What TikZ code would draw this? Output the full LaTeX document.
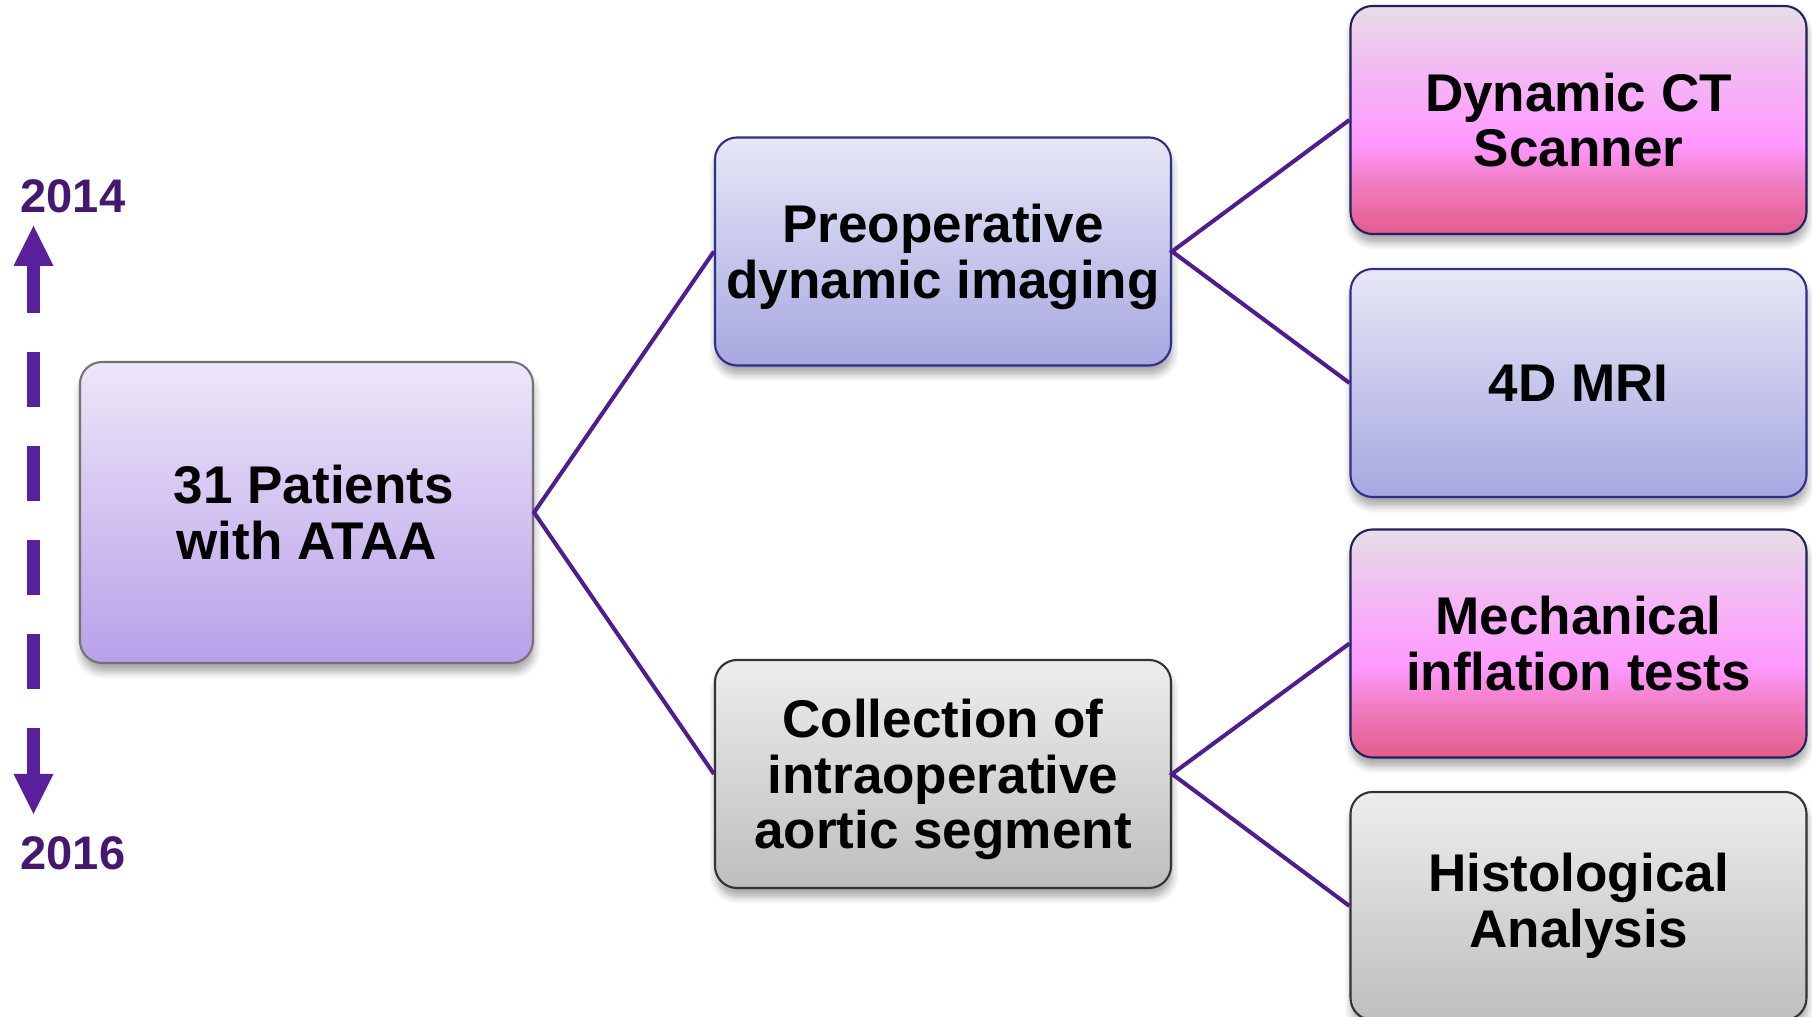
\documentclass[tikz,border=0pt]{standalone}
\usepackage{fontspec}
\setmainfont{Liberation Sans}
\usetikzlibrary{shadows.blur}

\definecolor{linkcol}{HTML}{4E1E8E}
\definecolor{timecol}{HTML}{5A1F9A}
\definecolor{yearcol}{HTML}{45186F}
\definecolor{navy}{HTML}{2D2F8A}
\definecolor{pinktop}{HTML}{E6DDE6}
\definecolor{pinkmid}{HTML}{FF99FF}
\definecolor{pinkdeep}{HTML}{F07CC0}
\definecolor{pinkbot}{HTML}{E35C8B}
\definecolor{lilactop}{HTML}{EDE6F8}
\definecolor{lilacbot}{HTML}{B8A0EA}
\definecolor{bluetop}{HTML}{E7E7F7}
\definecolor{bluebot}{HTML}{A7A7E1}
\definecolor{greytop}{HTML}{EDEDED}
\definecolor{greybot}{HTML}{BEBEBE}

\pgfdeclareverticalshading{pinkfill}{100bp}{color(0bp)=(pinkbot); color(25bp)=(pinkbot); color(36bp)=(pinkdeep); color(45bp)=(pinkmid); color(60bp)=(pinktop!45!pinkmid); color(75bp)=(pinktop); color(100bp)=(pinktop)}

\tikzset{
  box/.style={rounded corners=0.22cm, minimum width=4.56cm, minimum height=2.28cm,
    align=center, inner sep=0pt, line width=0.6pt,
    font=\fontsize{15.1pt}{15.8pt}\selectfont\bfseries,
    blur shadow={shadow xshift=0.3pt, shadow yshift=-2.5pt, shadow blur steps=6, shadow opacity=35}},
  lilac/.style={box, draw=black!55, top color=lilactop, bottom color=lilacbot},
  blue/.style={box, draw=navy, top color=bluetop, bottom color=bluebot},
  pink/.style={box, draw=navy!70!black, shading=pinkfill},
  grey/.style={box, draw=black!80, top color=greytop, bottom color=greybot},
  link/.style={draw=linkcol, line width=1.15pt},
  year/.style={text=yearcol, font=\fontsize{13.4pt}{14pt}\selectfont\bfseries}
}

\begin{document}
\begin{tikzpicture}
    \useasboundingbox (0,0) rectangle (18.12,10.17);

    % Boxes
    \node[lilac, minimum width=4.53cm, minimum height=3.01cm] (patients) at (3.065,5.045) {\hspace*{0.147cm}31 Patients\\with ATAA};
    \node[blue, text depth=0pt] (preop) at (9.43,7.655) {Preoperative\\dynamic imaging};
    \node[grey, text depth=0pt] (collect) at (9.43,2.43) {Collection of\\intraoperative\\aortic segment};
    \node[pink] (ct) at (15.785,8.97) {Dynamic CT\\Scanner};
    \node[blue] (mri) at (15.785,6.34) {4D MRI};
    \node[pink] (mech) at (15.785,3.735) {Mechanical\\inflation tests};
    \node[grey] (histo) at (15.785,1.11) {Histological\\Analysis};

    % Links
    \draw[link] (preop.west) -- (patients.east) -- (collect.west);
    \draw[link] (ct.west) -- (preop.east) -- (mri.west);
    \draw[link] (mech.west) -- (collect.east) -- (histo.west);

    % Timeline
    \node[year] (y14) at (0.73,8.21) {2014};
    \node[year] (y16) at (0.73,1.64) {2016};
    \coordinate (up) at (0.335,7.51);
    \coordinate (dn) at (0.335,2.43);
    \draw[timecol, line width=0.13cm, dash pattern=on 5.45mm off 3.95mm, dash phase=0.75mm] (up) -- (dn);
    \fill[timecol] (up) ++(-0.2,0) -- ++(0.2,0.4) -- ++(0.2,-0.4) -- cycle;
    \fill[timecol] (dn) ++(-0.2,0) -- ++(0.2,-0.4) -- ++(0.2,0.4) -- cycle;
\end{tikzpicture}
\end{document}
